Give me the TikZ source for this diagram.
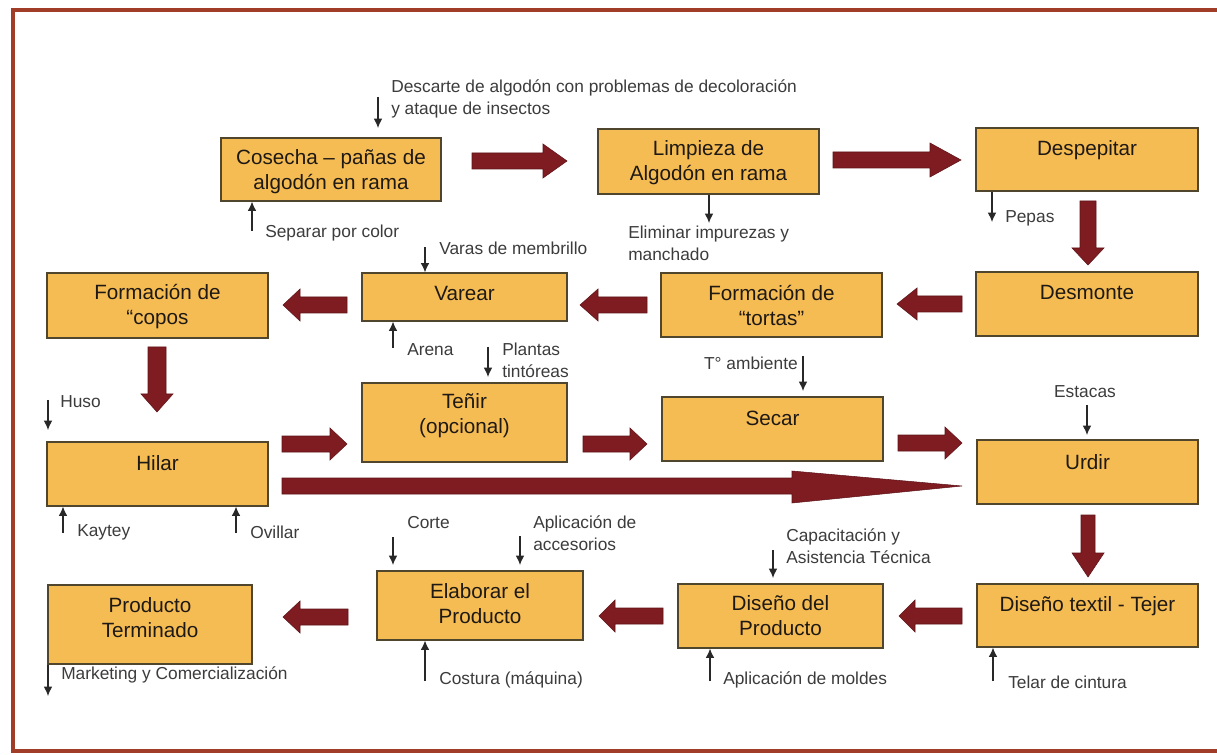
\documentclass[tikz,border=0pt]{standalone}
\usepackage{fontspec}
\setmainfont{Liberation Sans}
\usetikzlibrary{arrows.meta,fit}
\definecolor{boxfill}{RGB}{246,188,84}
\definecolor{boxline}{RGB}{80,70,45}
\definecolor{arrowred}{RGB}{126,28,34}
\definecolor{arrowdark}{RGB}{95,20,25}
\definecolor{framered}{RGB}{160,60,40}
\definecolor{txt}{RGB}{30,25,20}
\definecolor{smalltxt}{RGB}{60,60,60}
\definecolor{thinline}{RGB}{40,40,40}
\newcommand\blockH[6]{% tail x, tip x, yc, head start x, shaft half, head half
  \filldraw[barrow] (#1,#3-#5) -- (#4,#3-#5) -- (#4,#3-#6) -- (#2,#3) -- (#4,#3+#6) -- (#4,#3+#5) -- (#1,#3+#5) -- cycle;}
\newcommand\blockV[6]{% xc, tail y, tip y, head start y, shaft half, head half
  \filldraw[barrow] (#1-#5,#2) -- (#1-#5,#4) -- (#1-#6,#4) -- (#1,#3) -- (#1+#6,#4) -- (#1+#5,#4) -- (#1+#5,#2) -- cycle;}
\begin{document}
\begin{tikzpicture}[x=0.75pt,y=-0.75pt,
  stepbox/.style={draw=boxline,line width=0.9pt,fill=boxfill,inner sep=0pt},
  boxtext/.style={font=\fontsize{15.5}{18.75}\selectfont,text=txt,align=center,inner sep=0pt},
  note/.style={font=\fontsize{13}{16.5}\selectfont,text=smalltxt,align=left,inner sep=0pt,anchor=west},
  feed/.style={draw=thinline,line width=0.9pt,-{Latex[length=7pt,width=6.5pt]}},
  barrow/.style={fill=arrowred,draw=arrowdark,line width=0.4pt}]
\useasboundingbox (0,0) rectangle (1217,755);
\clip (0,0) rectangle (1217,755);
\fill[white] (0,0) rectangle (1217,755);
% frame
\draw[framered,line width=3pt] (12.5,10) rectangle (1240,751);

% boxes
\node[stepbox,fit={(221,138)(441,201)}] (cosecha) {};
\node[stepbox,fit={(598,129)(819,194)}] (limpieza) {};
\node[stepbox,fit={(976,128)(1198,191)}] (despepitar) {};
\node[stepbox,fit={(976,272)(1198,336)}] (desmonte) {};
\node[stepbox,fit={(661,273)(882,337)}] (tortas) {};
\node[stepbox,fit={(362,273)(567,321)}] (varear) {};
\node[stepbox,fit={(47,273)(268,338)}] (copos) {};
\node[stepbox,fit={(47,442)(268,506)}] (hilar) {};
\node[stepbox,fit={(362,383)(567,462)}] (tenir) {};
\node[stepbox,fit={(662,397)(883,461)}] (secar) {};
\node[stepbox,fit={(977,440)(1198,504)}] (urdir) {};
\node[stepbox,fit={(977,584)(1198,647)}] (tejer) {};
\node[stepbox,fit={(678,584)(883,648)}] (disenio) {};
\node[stepbox,fit={(377,571)(583,640)}] (elaborar) {};
\node[stepbox,fit={(48,585)(252,664)}] (producto) {};

% box texts
\node[boxtext] (tcosecha) at (331,172) {Cosecha – pañas de\\algodón en rama};
\node[boxtext] (tlimpieza) at (708.5,163) {Limpieza de\\Algodón en rama};
\node[boxtext] (tdespepitar) at (1087,150) {Despepitar};
\node[boxtext] (tdesmonte) at (1087,292) {Desmonte};
\node[boxtext] (ttortas) at (771.5,305.5) {Formación de\\“tortas”};
\node[boxtext] (tvarear) at (464.5,293) {Varear};
\node[boxtext] (tcopos) at (157.5,306.5) {Formación de\\“copos};
\node[boxtext] (thilar) at (157.5,463) {Hilar};
\node[boxtext] (ttenir) at (464.5,415.5) {Teñir\\(opcional)};
\node[boxtext] (tsecar) at (772.5,418) {Secar};
\node[boxtext] (turdir) at (1087.5,462) {Urdir};
\node[boxtext] (ttejer) at (1087.5,606) {Diseño textil - Tejer};
\node[boxtext] (tdisenio) at (780.5,616) {Diseño del\\Producto};
\node[boxtext] (telaborar) at (480,603.5) {Elaborar el\\Producto};
\node[boxtext] (tproducto) at (150,618) {Producto\\Terminado};

% block arrows
\blockH{472}{567}{161}{543}{8}{17}
\blockH{833}{961}{160}{930}{8}{17}
\blockV{1088}{201}{265}{248}{8}{16}
\blockH{962}{897}{304}{917}{8}{16}
\blockH{647}{580}{305}{598}{8}{16}
\blockH{347}{283}{305}{300}{8}{16}
\blockV{157}{347}{412}{394}{9}{16}
\blockH{282}{347}{444}{330}{8}{16}
\blockH{583}{647}{444}{630}{8}{16}
\blockH{898}{962}{443}{945}{8}{16}
\filldraw[barrow] (282,478) -- (792,478) -- (792,471) -- (962,486) -- (792,503) -- (792,494) -- (282,494) -- cycle;
\blockV{1088}{515}{577}{553}{7}{16}
\blockH{962}{899}{616}{915}{8}{16}
\blockH{663}{599}{616}{615}{8}{16}
\blockH{348}{283}{617}{300}{8}{16}

% small feed arrows
\coordinate (a1) at (378,97);   \draw[feed] (a1) -- (378,128);
\node[note] (n1) at (391,99) {Descarte de algodón con problemas de decoloración\\y ataque de insectos};
\coordinate (a2) at (252,231);  \draw[feed] (a2) -- (cosecha.south -| a2);
\node[note] (n2) at (265,233) {Separar por color};
\coordinate (a3) at (709,223);  \draw[feed] (limpieza.south -| a3) -- (a3);
\node[note] (n3) at (628,243) {Eliminar impurezas y\\manchado};
\coordinate (a4) at (992,222);  \draw[feed] (despepitar.south -| a4) -- (a4);
\node[note] (n4) at (1005,218) {Pepas};
\coordinate (a5) at (425,247);  \draw[feed] (a5) -- (varear.north -| a5);
\node[note] (n5) at (439,248) {Varas de membrillo};
\coordinate (a6) at (393,348);  \draw[feed] (a6) -- (varear.south -| a6);
\node[note] (n6) at (407,350) {Arena};
\coordinate (a7) at (488,347);  \draw[feed] (a7) -- (488,377);
\node[note] (n7) at (502,360) {Plantas\\tintóreas};
\coordinate (a8) at (803,356);  \draw[feed] (a8) -- (803,391);
\node[note,anchor=east] (n8) at (798,363) {T° ambiente};
\coordinate (a9) at (48,400);   \draw[feed] (a9) -- (48,430);
\node[note] (n9) at (60,402) {Huso};
\coordinate (a10) at (63,533);  \draw[feed] (a10) -- (hilar.south -| a10);
\node[note] (n10) at (77,532) {Kaytey};
\coordinate (a11) at (236,533); \draw[feed] (a11) -- (hilar.south -| a11);
\node[note] (n11) at (250,532) {Ovillar};
\coordinate (a12) at (393,537); \draw[feed] (a12) -- (393,565);
\node[note] (n12) at (407,523) {Corte};
\coordinate (a13) at (520,536); \draw[feed] (a13) -- (520,565);
\node[note] (n13) at (533,533) {Aplicación de\\accesorios};
\coordinate (a14) at (773,550); \draw[feed] (a14) -- (773,578);
\node[note] (n14) at (786,546) {Capacitación y\\Asistencia Técnica};
\coordinate (a15) at (1087,405); \draw[feed] (a15) -- (1087,435);
\node[note,anchor=center] (n15) at (1085,392) {Estacas};
\coordinate (a16) at (993,681); \draw[feed] (a16) -- (tejer.south -| a16);
\node[note] (n16) at (1008,682) {Telar de cintura};
\coordinate (a17) at (710,681); \draw[feed] (a17) -- (disenio.south -| a17);
\node[note] (n17) at (723,680) {Aplicación de moldes};
\coordinate (a18) at (425,681); \draw[feed] (a18) -- (elaborar.south -| a18);
\node[note] (n18) at (439,680) {Costura (máquina)};
\coordinate (a19) at (48,696);  \draw[feed] (producto.south -| a19) -- (a19);
\node[note] (n19) at (61,675) {Marketing y Comercialización};
\end{tikzpicture}
\end{document}
